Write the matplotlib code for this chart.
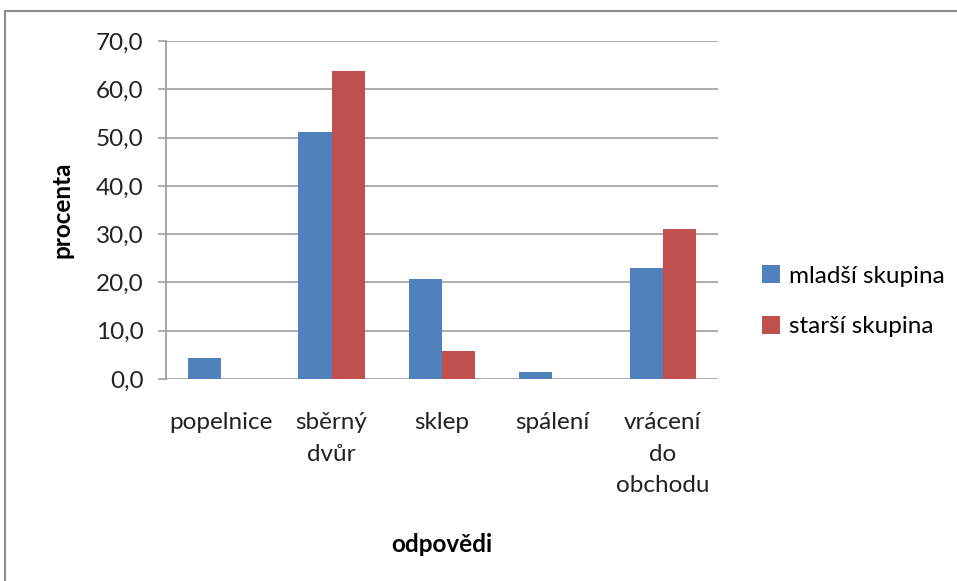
import matplotlib
matplotlib.use("Agg")
import matplotlib.pyplot as plt
from matplotlib.patches import Rectangle
import numpy as np

categories = ["popelnice", "sběrný\ndvůr", "sklep", "spálení", "vrácení\ndo\nobchodu"]
mladsi = [4.3, 51.2, 20.8, 1.4, 22.9]
starsi = [0.0, 63.7, 5.7, 0.0, 31.1]
series_names = ["mladší skupina", "starší skupina"]
yticks = [0, 10, 20, 30, 40, 50, 60, 70]

plt.rcParams["font.family"] = ["Lato", "DejaVu Sans"]
FS = 17.5

fig = plt.figure(figsize=(9.57, 5.81), dpi=100)
ax = fig.add_axes([166 / 957, 1 - 379 / 581, (718 - 166) / 957, (379 - 41) / 581])

# outer chart frame (only left/top edges fall inside the canvas)
fig.patches.append(Rectangle((5 / 957, -0.1), 1.2, 1 - 11 / 581 + 0.1,
                             transform=fig.transFigure, fill=False,
                             edgecolor="#8c8c8c", linewidth=1.5, zorder=0))

x = np.arange(len(categories))
w = 0.3
ax.bar(x - w / 2, mladsi, w, color="#4F81BD", label=series_names[0], zorder=3)
ax.bar(x + w / 2, starsi, w, color="#C0504D", label=series_names[1], zorder=3)

ax.set_xlim(-0.5, len(categories) - 0.5)
ax.set_ylim(0, 70)
ax.set_yticks(yticks)
ax.set_yticklabels([f"{v:.1f}".replace(".", ",") for v in yticks], fontsize=FS, color="#222222")
ax.set_xticks(x)
ax.set_xticklabels(categories, fontsize=FS, color="#222222", va="top", linespacing=1.6)
ax.tick_params(axis="x", length=0, pad=24)
ax.tick_params(axis="y", length=6, width=1.2, color="#a0a0a0", pad=10)

ax.grid(axis="y", color="#a6a6a6", linewidth=1.3, zorder=0)
for s in ["top", "right", "bottom"]:
    ax.spines[s].set_visible(False)
ax.spines["left"].set_color("#a0a0a0")
ax.spines["left"].set_linewidth(1.3)

ax.set_ylabel("procenta", fontsize=FS, fontweight="bold", labelpad=16)
ax.set_xlabel("odpovědi", fontsize=FS, fontweight="bold", labelpad=27)

ax.legend(loc="center left", bbox_to_anchor=(1.04, 0.23), frameon=False,
          fontsize=FS, handlelength=0.75, handleheight=0.75, handletextpad=0.35,
          labelspacing=1.2)

fig.savefig("out.png", dpi=100)
